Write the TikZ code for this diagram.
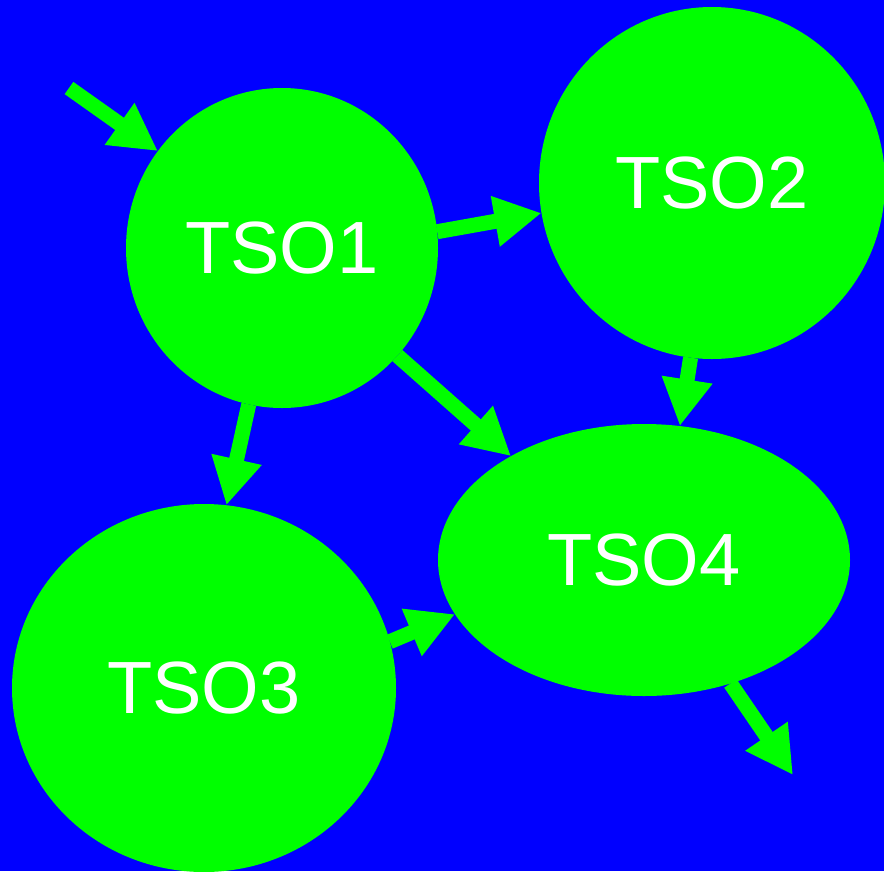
\documentclass[tikz,border=0pt]{standalone}
\usepackage{fontspec}
\setmainfont{Liberation Sans}
\usetikzlibrary{shapes.geometric,arrows.meta}
\definecolor{bgblue}{RGB}{0,0,255}
\definecolor{tsogreen}{RGB}{0,255,0}
\tikzset{
  tso/.style={ellipse, fill=tsogreen, draw=none, inner sep=0pt, outer sep=0pt,
    text=white, font=\fontsize{74}{80}\selectfont},
  flow/.style={draw=tsogreen, line width=15pt,
    -{Triangle[length=47pt,width=48pt,fill=tsogreen]}}
}
\begin{document}
\begin{tikzpicture}[x=1pt,y=-1pt]
  \useasboundingbox (0,0) rectangle (884,871);
  \fill[bgblue] (0,0) rectangle (884,871);

  % process nodes
  \node[tso, minimum width=312pt, minimum height=320pt] (t1) at (282,248) {TSO1};
  \node[tso, minimum width=346pt, minimum height=352pt] (t2) at (712,183) {TSO2};
  \node[tso, minimum width=384pt, minimum height=368pt] (t3) at (204,688) {TSO3};
  \node[tso, minimum width=412pt, minimum height=272pt] (t4) at (644,560) {TSO4};

  % free ends of the entry and exit arrows
  \coordinate (in) at (69,88);
  \coordinate (out) at (793,775);

  % connectors
  \draw[flow] (in) -- (t1.142.8);
  \draw[flow] (t1.6.6) -- (t2.190.7);
  \draw[flow] (t2.263.2) -- (t4.75.7);
  \draw[flow] (t1.258.5) -- (t3.83.5);
  \draw[flow] (t1.317.3) -- (t4.142.3);
  \draw[flow] (t3.14.7) -- (t4.196.3);
  \draw[flow] (t4.305.8) -- (out);
\end{tikzpicture}
\end{document}
